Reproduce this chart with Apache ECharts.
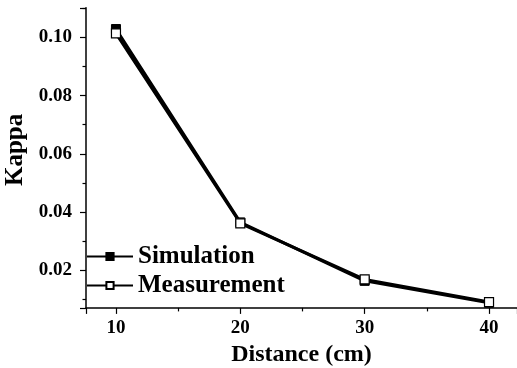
<!DOCTYPE html>
<html>
<head>
<meta charset="utf-8">
<script src="https://cdn.jsdelivr.net/npm/echarts@6/dist/echarts.min.js"></script>
<style>
  html, body { margin: 0; padding: 0; background: #fff; }
  #chart { width: 517px; height: 368px; }
</style>
</head>
<body>
<div id="chart"></div>
<script>
// Kappa versus source distance
const distances = [10, 20, 30, 40];            // cm
const simulation = [0.1029, 0.0364, 0.0163, 0.0088];
const measurement = [0.1014, 0.0361, 0.0168, 0.0090];
const seriesNames = ['Simulation', 'Measurement'];

const SERIF = '"Liberation Serif", "Times New Roman", serif';

function pairs(xs, ys) {
  return xs.map((x, i) => [x, ys[i]]);
}

const chart = echarts.init(document.getElementById('chart'), null, { renderer: 'canvas' });

const axisCommon = {
  axisLine: { show: true, onZero: false, lineStyle: { color: '#000', width: 1.5 } },
  axisTick: { show: true, inside: false, length: 6, lineStyle: { color: '#000', width: 1.2 } },
  minorTick: { show: true, splitNumber: 2, length: 3.5, lineStyle: { color: '#000', width: 1.2 } },
  splitLine: { show: false },
  minorSplitLine: { show: false }
};

chart.setOption({
  backgroundColor: '#fff',
  animation: false,
  grid: { left: 86, right: 0, top: 7.8, bottom: 60.1, outerBoundsMode: 'none', containLabel: false },
  xAxis: Object.assign({}, axisCommon, {
    type: 'value',
    min: 7.59,
    max: 42.25,
    splitNumber: 3,
    name: 'Distance (cm)',
    nameLocation: 'middle',
    nameGap: 33,
    nameTextStyle: { fontFamily: SERIF, fontWeight: 'bold', fontSize: 24, color: '#000' },
    axisLabel: {
      margin: 11,
      fontFamily: SERIF, fontWeight: 'bold', fontSize: 19, color: '#000',
      showMinLabel: false, showMaxLabel: false,
      formatter: v => (v % 10 === 0 ? String(v) : '')
    }
  }),
  yAxis: Object.assign({}, axisCommon, {
    type: 'value',
    min: 0.007,
    max: 0.1102,
    splitNumber: 5,
    name: 'Kappa',
    nameLocation: 'middle',
    nameGap: 57,
    nameRotate: 90,
    nameTextStyle: { fontFamily: SERIF, fontWeight: 'bold', fontSize: 25, color: '#000', padding: [0, 0, 0, 16] },
    axisLabel: {
      margin: 14,
      fontFamily: SERIF, fontWeight: 'bold', fontSize: 19, color: '#000',
      showMinLabel: false, showMaxLabel: false,
      formatter: v => v.toFixed(2)
    }
  }),
  legend: {
    orient: 'vertical',
    left: 86,
    top: 244,
    padding: 0,
    itemWidth: 46,
    itemHeight: 9,
    itemGap: 4,
    textStyle: { fontFamily: SERIF, fontWeight: 'bold', fontSize: 25, color: '#000' },
    data: seriesNames,
    lineStyle: { width: 2 }
  },
  series: [
    {
      name: seriesNames[0],
      type: 'line',
      data: pairs(distances, simulation),
      symbol: 'rect',
      symbolSize: 9,
      lineStyle: { color: '#000', width: 3 },
      itemStyle: { color: '#000', borderColor: '#000', borderWidth: 1 },
      z: 2
    },
    {
      name: seriesNames[1],
      type: 'line',
      data: pairs(distances, measurement),
      symbol: 'rect',
      symbolSize: 9,
      lineStyle: { color: '#000', width: 3 },
      itemStyle: { color: '#fff', borderColor: '#000', borderWidth: 1.2 },
      z: 3
    }
  ]
});
</script>
</body>
</html>
